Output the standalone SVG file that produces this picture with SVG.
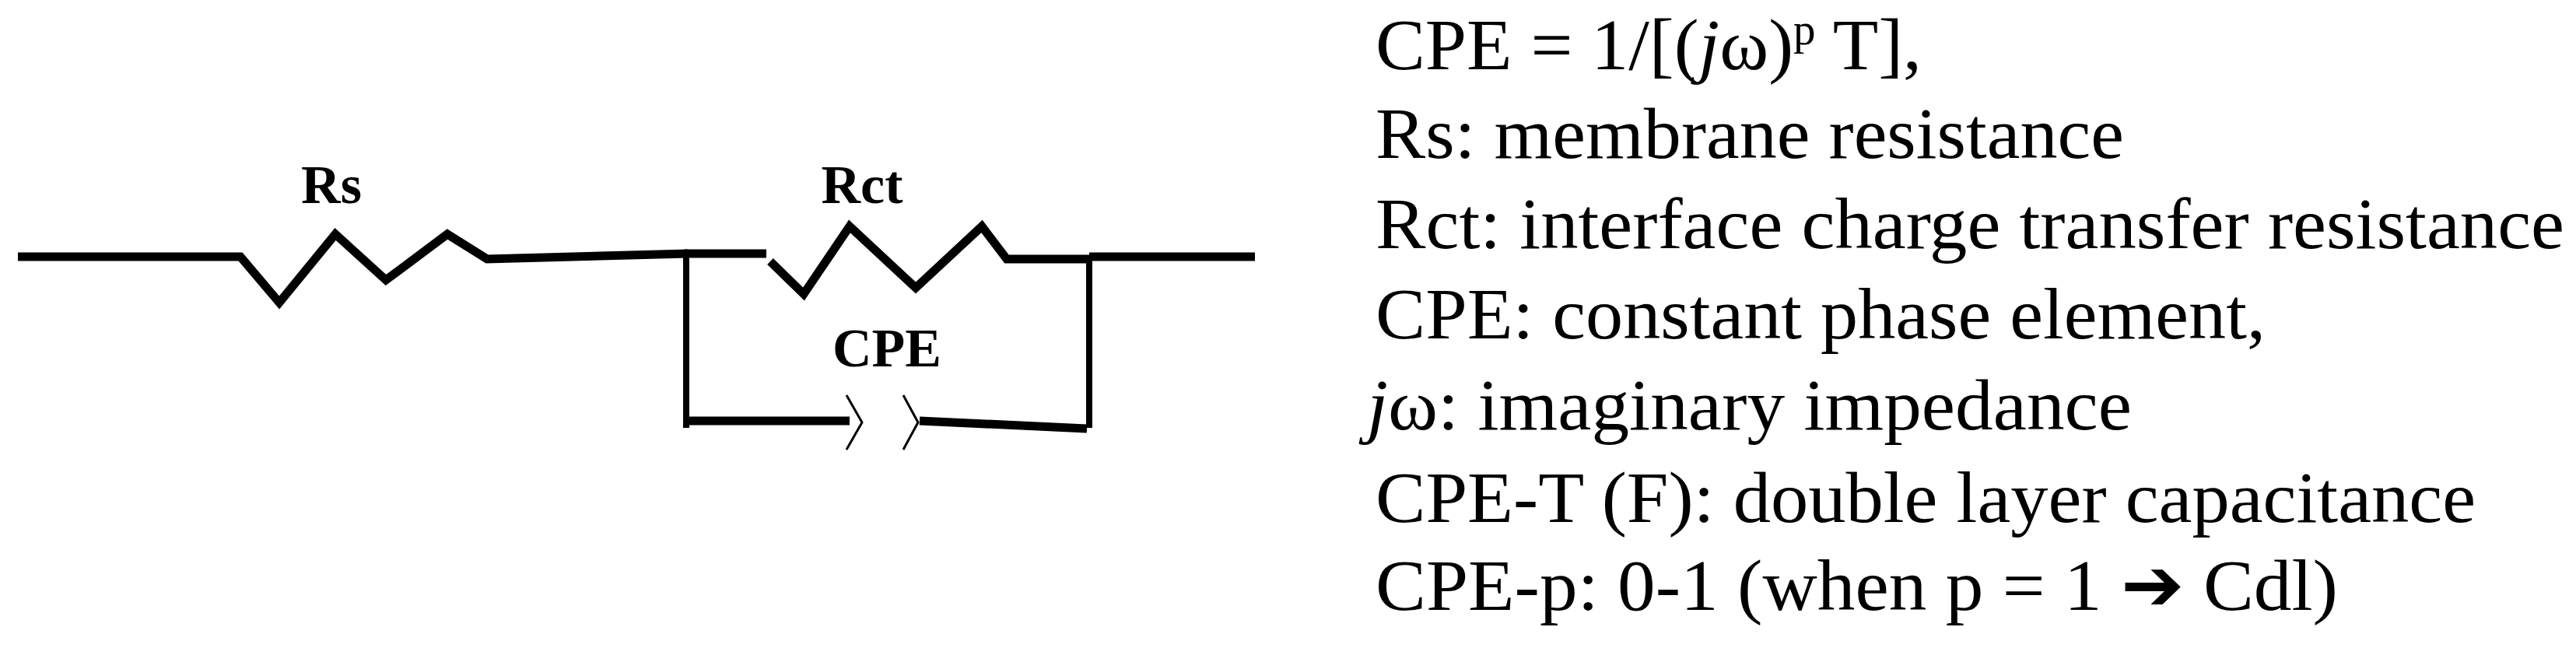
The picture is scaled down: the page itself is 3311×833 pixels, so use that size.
<svg xmlns="http://www.w3.org/2000/svg" width="3311" height="833" viewBox="0 0 3311 833">
<style>
.w{fill:none;stroke:#000;stroke-width:11;stroke-linejoin:miter}
.v{fill:none;stroke:#000;stroke-width:8}
.c{fill:none;stroke:#000;stroke-width:3}
.lb{font-family:"Liberation Serif",serif;font-weight:bold;font-size:70px;text-anchor:middle}
.t{font-family:"Liberation Serif",serif;font-size:94px}
</style>
<rect width="3311" height="833" fill="#fff"/>
<g id="connectors">
<polyline class="w" points="23,330 309,330 359,389 431,301 496,360 575,301 626,333 884,326"/>
<polyline class="v" points="882,326 882,550"/>
<polyline class="w" points="880,326 985,326"/>
<polyline class="w" points="990,336 1033,378 1092,291 1177,370 1262,291 1294,333 1400,333"/>
<polyline class="w" points="1400,330 1613,330"/>
<polyline class="v" points="1400,333 1400,550"/>
<polyline class="w" points="884,541 1092,541"/>
<polyline class="w" points="1182,541 1397,551"/>
</g>
<g id="Rs"><text class="lb" x="426" y="261">Rs</text></g>
<g id="Rct"><text class="lb" x="1108" y="261">Rct</text></g>
<g id="CPE"><text class="lb" x="1140" y="471">CPE</text>
<polyline class="c" points="1088,508 1108,543 1088,578"/>
<polyline class="c" points="1161,508 1180,543 1161,578"/>
</g>
<g id="legend">
<text class="t" x="1768" y="89" textLength="702" lengthAdjust="spacingAndGlyphs">CPE = 1/[(<tspan font-style="italic">j</tspan>ω)<tspan font-size="56" dy="-32">p</tspan><tspan dy="32"> T],</tspan></text>
<text class="t" x="1768" y="203" textLength="962" lengthAdjust="spacingAndGlyphs">Rs: membrane resistance</text>
<text class="t" x="1768" y="319" textLength="1528" lengthAdjust="spacingAndGlyphs">Rct: interface charge transfer resistance</text>
<text class="t" x="1768" y="435" textLength="1144" lengthAdjust="spacingAndGlyphs">CPE: constant phase element,</text>
<text class="t" x="1757" y="552" textLength="983" lengthAdjust="spacingAndGlyphs"><tspan font-style="italic">j</tspan>ω: imaginary impedance</text>
<text class="t" x="1768" y="671" textLength="1414" lengthAdjust="spacingAndGlyphs">CPE-T (F): double layer capacitance</text>
<text class="t" x="1768" y="784" textLength="1237" lengthAdjust="spacingAndGlyphs">CPE-p: 0-1 (when p = 1 <tspan font-weight="bold" font-family="DejaVu Sans, sans-serif">➔</tspan> Cdl)</text>
</g>
</svg>
